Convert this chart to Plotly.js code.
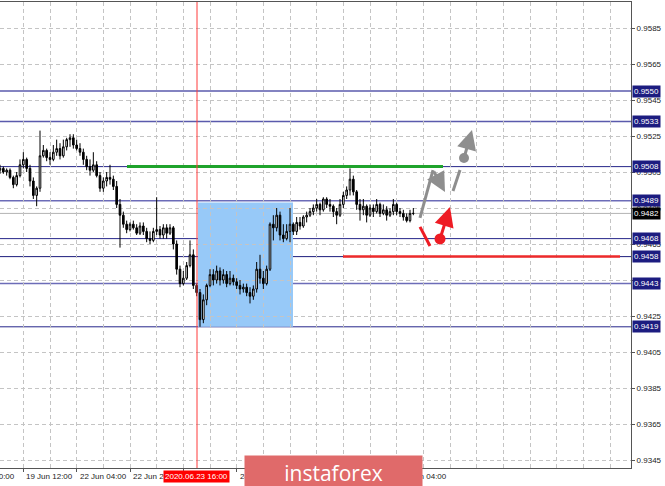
<!DOCTYPE html>
<html><head><meta charset="utf-8">
<script src="https://cdn.plot.ly/plotly-3.0.1.min.js"></script>
<style>html,body{margin:0;padding:0;background:#fff}#chart{width:665px;height:486px}</style>
</head><body><div id="chart"></div>
<script>
// H1 candles, 19 Jun 05:00 -> 26 Jun 09:00 (weekend removed)
const opens = [0.9506,0.9507,0.9505,0.9506,0.9502,0.9498,0.9503,0.9509,0.9512,0.9507,
0.9500,0.9492,0.9496,0.9514,0.9517,0.9513,0.9512,0.9516,0.9518,0.9514,
0.9519,0.9523,0.9524,0.9520,0.9518,0.9516,0.9512,0.9508,0.9506,0.9509,
0.9503,0.9496,0.9500,0.9502,0.9501,0.9497,0.9487,0.9481,0.9476,0.9473,
0.9476,0.9474,0.9471,0.9475,0.9472,0.9468,0.9467,0.9472,0.9473,0.9470,
0.9474,0.9471,0.9474,0.9465,0.9451,0.9443,0.9446,0.9453,0.9459,0.9442,
0.9438,0.9423,0.9434,0.9442,0.9448,0.9445,0.9450,0.9445,0.9448,0.9443,
0.9446,0.9444,0.9442,0.9440,0.9441,0.9438,0.9436,0.9440,0.9451,0.9446,
0.9443,0.9451,0.9476,0.9474,0.9481,0.9470,0.9468,0.9472,0.9476,0.9472,
0.9477,0.9475,0.9480,0.9481,0.9483,0.9485,0.9487,0.9484,0.9490,0.9487,
0.9486,0.9483,0.9481,0.9487,0.9492,0.9495,0.9501,0.9494,0.9487,0.9484,
0.9486,0.9481,0.9485,0.9483,0.9487,0.9482,0.9484,0.9481,0.9483,0.9487,
0.9483,0.9482,0.9480,0.9478,0.9482];
const highs = [0.9509,0.9508,0.9507,0.9507,0.9503,0.9505,0.9512,0.9516,0.9513,0.9509,
0.9502,0.9497,0.9528,0.9520,0.9518,0.9516,0.9520,0.9523,0.9521,0.9523,
0.9524,0.9526,0.9526,0.9523,0.9521,0.9518,0.9514,0.9512,0.9516,0.9511,
0.9505,0.9502,0.9505,0.9509,0.9503,0.9500,0.9490,0.9483,0.9478,0.9477,
0.9478,0.9476,0.9477,0.9477,0.9474,0.9472,0.9474,0.9491,0.9475,0.9476,
0.9476,0.9476,0.9475,0.9467,0.9453,0.9450,0.9455,0.9467,0.9462,0.9443,
0.9440,0.9437,0.9443,0.9451,0.9451,0.9453,0.9452,0.9451,0.9450,0.9450,
0.9448,0.9446,0.9445,0.9443,0.9443,0.9441,0.9442,0.9455,0.9459,0.9450,
0.9453,0.9477,0.9481,0.9485,0.9483,0.9476,0.9476,0.9485,0.9477,0.9480,
0.9480,0.9481,0.9483,0.9485,0.9487,0.9490,0.9488,0.9491,0.9491,0.9490,
0.9487,0.9485,0.9490,0.9494,0.9497,0.9507,0.9503,0.9495,0.9490,0.9490,
0.9487,0.9487,0.9487,0.9490,0.9488,0.9487,0.9486,0.9485,0.9490,0.9488,
0.9485,0.9484,0.9482,0.9484,0.9485];
const lows = [0.9504,0.9504,0.9503,0.9501,0.9496,0.9497,0.9502,0.9507,0.9505,0.9497,
0.9490,0.9486,0.9494,0.9513,0.9511,0.9509,0.9511,0.9514,0.9512,0.9513,
0.9517,0.9519,0.9518,0.9517,0.9514,0.9509,0.9506,0.9503,0.9505,0.9502,
0.9494,0.9494,0.9497,0.9498,0.9495,0.9485,0.9463,0.9474,0.9471,0.9472,
0.9473,0.9470,0.9470,0.9470,0.9466,0.9465,0.9466,0.9470,0.9468,0.9468,
0.9468,0.9470,0.9462,0.9448,0.9441,0.9442,0.9445,0.9452,0.9440,0.9436,
0.9419,0.9421,0.9431,0.9441,0.9442,0.9443,0.9442,0.9443,0.9441,0.9442,
0.9442,0.9440,0.9437,0.9438,0.9436,0.9432,0.9434,0.9438,0.9443,0.9440,
0.9442,0.9450,0.9467,0.9472,0.9467,0.9466,0.9467,0.9466,0.9470,0.9470,
0.9473,0.9474,0.9477,0.9480,0.9481,0.9483,0.9481,0.9483,0.9485,0.9483,
0.9480,0.9476,0.9480,0.9485,0.9490,0.9492,0.9492,0.9484,0.9478,0.9481,
0.9477,0.9480,0.9480,0.9482,0.9480,0.9481,0.9478,0.9480,0.9481,0.9481,
0.9480,0.9478,0.9477,0.9477,0.9481];
const closes = [0.9507,0.9505,0.9506,0.9502,0.9498,0.9503,0.9509,0.9512,0.9507,0.9500,
0.9492,0.9496,0.9514,0.9517,0.9513,0.9512,0.9516,0.9518,0.9514,0.9519,
0.9523,0.9524,0.9520,0.9518,0.9516,0.9512,0.9508,0.9506,0.9509,0.9503,
0.9496,0.9500,0.9502,0.9501,0.9497,0.9487,0.9481,0.9476,0.9473,0.9476,
0.9474,0.9471,0.9475,0.9472,0.9468,0.9467,0.9472,0.9473,0.9470,0.9474,
0.9471,0.9474,0.9465,0.9451,0.9443,0.9446,0.9453,0.9459,0.9442,0.9438,
0.9423,0.9434,0.9442,0.9448,0.9445,0.9450,0.9445,0.9448,0.9443,0.9446,
0.9444,0.9442,0.9440,0.9441,0.9438,0.9436,0.9440,0.9451,0.9446,0.9443,
0.9451,0.9476,0.9474,0.9481,0.9470,0.9468,0.9472,0.9476,0.9472,0.9477,
0.9475,0.9480,0.9481,0.9483,0.9485,0.9487,0.9484,0.9490,0.9487,0.9486,
0.9483,0.9481,0.9487,0.9492,0.9495,0.9501,0.9494,0.9487,0.9484,0.9486,
0.9481,0.9485,0.9483,0.9487,0.9482,0.9484,0.9481,0.9483,0.9487,0.9483,
0.9482,0.9480,0.9478,0.9482,0.9482];

// time-axis labels (bar index of each labelled hour); labels fully hidden in the reference are not drawn
const timeLabels = ['19 Jun 12:00','22 Jun 04:00','22 Jun 20:00','24 Jun 04:00','26 Jun 04:00'];
const timeLabelBars = [7,23,39,71,119];
const tickBars = [7,23,39,55,71,87,103,119];
const firstLabel = '18 Jun 20:00';
const markedTime = '2020.06.23 16:00';
const markedBar = 59;

// horizontal levels
const levels = [0.9550,0.9533,0.9508,0.9489,0.9468,0.9458,0.9443,0.9419];
const levelColors = ['#5a5aac','#5a5aac','#26268a','#6c6cb8','#26268a','#1c1c7c','#6c6cb8','#26268a'];
const levelWidths = [1.5,1.5,1,1.5,1,1,1.5,1];
const currentPrice = 0.9482;
const resistance = 0.9508, support = 0.9458;
const zoneTop = 0.9488, zoneBottom = 0.9419;

const idx = opens.map((_, i) => i);
const FONT = 'Liberation Sans, Arial, sans-serif';

const shapes = [];
shapes.push({type:'rect', xref:'x', yref:'y', x0:59.4, x1:87.9, y0:zoneBottom, y1:zoneTop,
  fillcolor:'#97c9f8', line:{width:0}, layer:'below'});
shapes.push({type:'line', xref:'paper', yref:'y', x0:0, x1:1, y0:currentPrice, y1:currentPrice,
  line:{color:'#b4b4b4', width:1}, layer:'below'});
levels.forEach((v,i) => shapes.push({type:'line', xref:'paper', yref:'y', x0:0, x1:1, y0:v, y1:v,
  line:{color:levelColors[i], width:levelWidths[i]}, layer:'below'}));
shapes.push({type:'line', xref:'x', yref:'y', x0:38.1, x1:132.9, y0:resistance, y1:resistance,
  line:{color:'#1fa32c', width:3}, layer:'above'});
shapes.push({type:'line', xref:'x', yref:'y', x0:102.9, x1:186, y0:support, y1:support,
  line:{color:'#ee2a2a', width:2.5}, layer:'above'});
shapes.push({type:'line', xref:'x', yref:'paper', x0:59.1, x1:59.1, y0:0, y1:1,
  line:{color:'#ff3b3b', width:1}, layer:'above'});
const GRAY = '#8e8e8e', RED = '#ee1c24';
shapes.push({type:'line', xref:'x', yref:'y', x0:126.0, y0:0.94795, x1:129.9, y1:0.95061, line:{color:GRAY, width:3}});
shapes.push({type:'line', xref:'x', yref:'y', x0:135.9, y0:0.94944, x1:138.0, y1:0.95061, line:{color:GRAY, width:3}});
shapes.push({type:'circle', xref:'x', yref:'y', xsizemode:'pixel', ysizemode:'pixel', xanchor:139.2, yanchor:0.95128,
  x0:-5, x1:5, y0:-5, y1:5, fillcolor:GRAY, line:{width:0}});
shapes.push({type:'line', xref:'x', yref:'y', x0:126.0, y0:0.94745, x1:129.0, y1:0.94639, line:{color:RED, width:3}});
shapes.push({type:'circle', xref:'x', yref:'y', xsizemode:'pixel', ysizemode:'pixel', xanchor:132.0, yanchor:0.94678,
  x0:-5.5, x1:5.5, y0:-5.5, y1:5.5, fillcolor:RED, line:{width:0}});

const annotations = [];
function arrow(x, y, ax, ay, color){
  annotations.push({x:x, y:y, ax:ax, ay:ay, xref:'x', yref:'y', axref:'x', ayref:'y', text:'',
    showarrow:true, arrowhead:2, arrowsize:1.3, arrowwidth:3, arrowcolor:color, standoff:0, startstandoff:0});
}
arrow(133.5, 0.94939, 129.9, 0.95061, GRAY);
arrow(141.6, 0.95283, 139.2, 0.95128, GRAY);
arrow(135.0, 0.94856, 132.0, 0.94678, RED);

levels.forEach(v => annotations.push({xref:'paper', x:1, xanchor:'left', xshift:1, yref:'y', y:v, yanchor:'middle',
  text:v.toFixed(4), showarrow:false, bgcolor:'#1c1c80', borderpad:1, font:{family:FONT, size:8, color:'#ffffff'}}));
annotations.push({xref:'paper', x:1, xanchor:'left', xshift:1, yref:'y', y:currentPrice, yanchor:'middle',
  text:currentPrice.toFixed(4), showarrow:false, bgcolor:'#000000', borderpad:1, font:{family:FONT, size:8, color:'#ffffff'}});

timeLabels.forEach((t,i) => annotations.push({xref:'x', x:timeLabelBars[i], xanchor:'left', xshift:1,
  yref:'paper', y:0, yanchor:'middle', yshift:-8, text:t, showarrow:false, font:{family:FONT, size:8, color:'#222'}}));
annotations.push({xref:'paper', x:-34/631, xanchor:'left', yref:'paper', y:0, yanchor:'middle', yshift:-8,
  text:firstLabel, showarrow:false, font:{family:FONT, size:8, color:'#222'}});
annotations.push({xref:'x', x:markedBar, xanchor:'center', yref:'paper', y:0, yanchor:'middle', yshift:-8,
  text:markedTime, showarrow:false, bgcolor:'#ff0000', borderpad:1, font:{family:FONT, size:8, color:'#ffffff'}});
annotations.push({xref:'paper', x:333/631, xanchor:'center', yref:'paper', y:13/466, yanchor:'top',
  text:'instaforex', showarrow:false, width:177, height:34, borderpad:0, bgcolor:'#e06a6a',
  font:{family:'Open Sans, sans-serif', size:21, color:'#ffffff'}});

const trace = {type:'candlestick', x:idx, open:opens, high:highs, low:lows, close:closes,
  increasing:{line:{color:'#000000', width:1}, fillcolor:'#ffffff'},
  decreasing:{line:{color:'#000000', width:1}, fillcolor:'#000000'},
  whiskerwidth:0, hoverinfo:'skip', showlegend:false};

const layout = {
  width:665, height:486, autosize:false,
  margin:{l:0, r:34, t:2, b:18, pad:0},
  paper_bgcolor:'#ffffff', plot_bgcolor:'#ffffff',
  showlegend:false,
  xaxis:{range:[0,189.3], rangeslider:{visible:false}, tickmode:'linear', tick0:7, dtick:8,
    showgrid:true, gridcolor:'#c4c4c4', gridwidth:1, griddash:'4px,3px', showticklabels:false, ticks:'',
    minor:{tickmode:'array', tickvals:tickBars, ticks:'outside', ticklen:3, tickcolor:'#555', showgrid:false},
    zeroline:false, showline:true, linecolor:'#555', linewidth:1, mirror:true, fixedrange:true},
  yaxis:{range:[0.934056,0.959945], side:'right', tickmode:'linear', tick0:0.9345, dtick:0.002, tickformat:'.4f',
    showgrid:true, gridcolor:'#c4c4c4', gridwidth:1, griddash:'4px,3px', ticks:'outside', ticklen:3, tickcolor:'#555',
    tickfont:{family:FONT, size:8, color:'#222'}, zeroline:false, showline:true, linecolor:'#555', linewidth:1, fixedrange:true},
  shapes:shapes, annotations:annotations
};
Plotly.newPlot('chart', [trace], layout, {staticPlot:true, displayModeBar:false});
</script></body></html>
